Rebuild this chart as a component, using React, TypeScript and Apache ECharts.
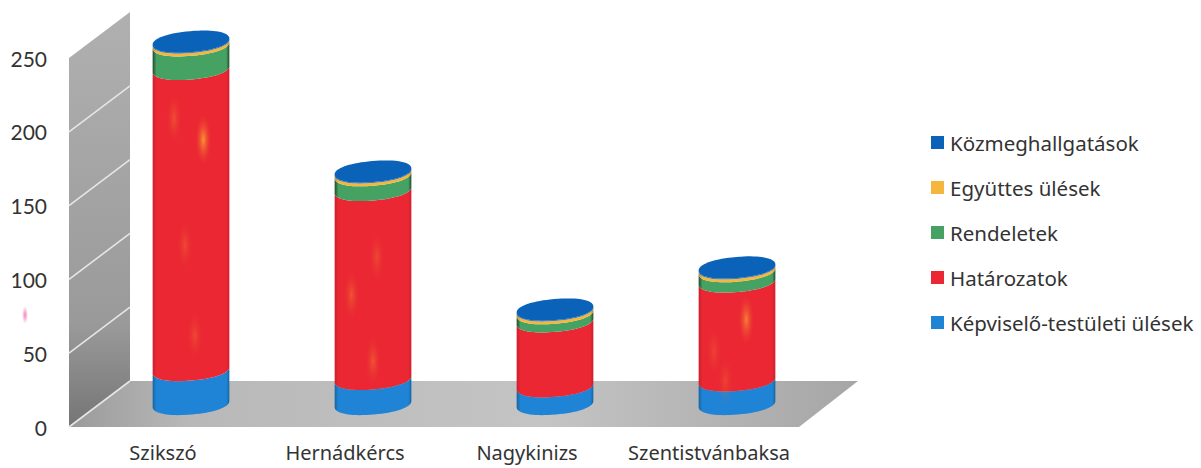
import React, { useEffect, useRef } from "react";
import * as echarts from "echarts";

const categories = ["Szikszó", "Hernádkércs", "Nagykinizs", "Szentistvánbaksa"];
const kepviseloUlesek = [23, 17, 12, 16];
const hatarozatok = [204, 128, 44, 67];
const rendeletek = [16, 10, 5.5, 7];
const egyuttesUlesek = [2, 2, 2, 2];
const kozmeghallgatasok = [0.5, 0.5, 0.5, 0.5];
const yTicks = [0, 50, 100, 150, 200, 250];

const stackOrder = [
  { name: "Képviselő-testületi ülések", values: kepviseloUlesek, color: "#1f84d6", edge: "#16659f" },
  { name: "Határozatok", values: hatarozatok, color: "#ea2733", edge: "#c9202c" },
  { name: "Rendeletek", values: rendeletek, color: "#45a262", edge: "#1f4a30" },
  { name: "Együttes ülések", values: egyuttesUlesek, color: "#f4b63c", edge: "#b9882a" },
  { name: "Közmeghallgatások", values: kozmeghallgatasok, color: "#0a63b8", edge: "#084c8c" },
];
const legendOrder = [...stackOrder].reverse().map((s) => s.name);

const DEPTH_X = 59;
const DEPTH_Y = 46;
const CYL_X = 28;
const RX = 38.5;
const RY = 10.5;
const ROUND = 0.92;
const TILT = (-5 * Math.PI) / 180;
// faint light streaks on the red segments: [category, x fraction of width, y fraction of height, strength]
const STREAKS = [
  [0, 0.66, 0.2, 1],
  [0, 0.28, 0.13, 0.35],
  [0, 0.42, 0.55, 0.3],
  [0, 0.55, 0.85, 0.3],
  [1, 0.55, 0.3, 0.3],
  [1, 0.22, 0.5, 0.4],
  [1, 0.5, 0.85, 0.4],
  [3, 0.62, 0.28, 0.8],
  [3, 0.2, 0.6, 0.25],
  [3, 0.35, 0.9, 0.25],
];

function ellipsePoint(cx: number, cy: number, t: number) {
  const c = Math.cos(t);
  const n = Math.sin(t);
  const ex = RX * Math.sign(c) * Math.pow(Math.abs(c), ROUND);
  const ey = RY * Math.sign(n) * Math.pow(Math.abs(n), ROUND);
  return [cx + ex * Math.cos(TILT) - ey * Math.sin(TILT), cy + ex * Math.sin(TILT) + ey * Math.cos(TILT)];
}

function arc(cx: number, cy: number, from: number, to: number, steps = 36) {
  const pts: number[][] = [];
  for (let i = 0; i <= steps; i++) pts.push(ellipsePoint(cx, cy, from + ((to - from) * i) / steps));
  return pts;
}

function sideFill(color: string, edge: string) {
  return new echarts.graphic.LinearGradient(0, 0, 1, 0, [
    { offset: 0, color: edge },
    { offset: 0.05, color },
    { offset: 0.5, color },
    { offset: 0.96, color },
    { offset: 1, color: edge },
  ]);
}

function makeRenderItem(level: number) {
  return (params: any, api: any) => {
    const idx = api.value(0);
    const value = api.value(1);
    let start = 0;
    for (let i = 0; i < level; i++) start += stackOrder[i].values[idx];
    const p0 = api.coord([idx, start]);
    const p1 = api.coord([idx, start + value]);
    const cx = p0[0] + CYL_X;
    const yBase = p0[1] - DEPTH_Y / 2;
    const yTop = p1[1] - DEPTH_Y / 2;
    const s = stackOrder[level];
    const points = [...arc(cx, yBase, Math.PI, 0), ...arc(cx, yTop, 0, Math.PI)];
    const children: any[] = [
      { type: "polygon", shape: { points }, style: { fill: sideFill(s.color, s.edge) } },
    ];
    if (level === 1) {
      STREAKS.filter((k) => k[0] === idx).forEach((k) => {
        children.push({
          type: "ellipse",
          shape: {
            cx: cx - RX + 2 * RX * k[1],
            cy: yTop + (yBase - yTop) * k[2] + RY,
            rx: 8,
            ry: 26,
          },
          style: {
            fill: new echarts.graphic.RadialGradient(0.5, 0.5, 0.5, [
              { offset: 0, color: `rgba(250,170,50,${0.85 * k[3]})` },
              { offset: 1, color: "rgba(240,60,50,0)" },
            ]),
          },
        });
      });
    }
    if (level === stackOrder.length - 1) {
      children.push({
        type: "polygon",
        shape: { points: arc(cx, yTop, 0, Math.PI * 2, 72) },
        style: { fill: s.color },
      });
    }
    return { type: "group", children };
  };
}

function renderBackdrop(params: any, api: any) {
  const left = params.coordSys.x;
  const right = left + params.coordSys.width;
  const y0 = api.coord([0, 0])[1];
  const yMax = api.coord([0, yTicks[yTicks.length - 1]])[1];
  const children: any[] = [
    {
      type: "polygon",
      shape: {
        points: [
          [left - 3, y0],
          [left - 3, yMax],
          [left + DEPTH_X - 1, yMax - DEPTH_Y],
          [left + DEPTH_X - 1, y0 - DEPTH_Y],
        ],
      },
      style: {
        fill: new echarts.graphic.LinearGradient(0, 0, 0, 1, [
          { offset: 0, color: "#b0b0b0" },
          { offset: 0.75, color: "#9a9a9a" },
          { offset: 1, color: "#757575" },
        ]),
      },
    },
    {
      type: "polygon",
      shape: {
        points: [
          [left - 3, y0],
          [left + DEPTH_X - 1, y0 - DEPTH_Y],
          [right + DEPTH_X - 1, y0 - DEPTH_Y],
          [right - 1, y0],
        ],
      },
      style: {
        fill: new echarts.graphic.LinearGradient(0, 0, 1, 0, [
          { offset: 0, color: "#9a9a9a" },
          { offset: 0.15, color: "#b8b8b8" },
          { offset: 0.6, color: "#c4c4c4" },
          { offset: 1, color: "#a6a6a6" },
        ]),
      },
    },
  ];
  yTicks.slice(0, -1).forEach((v) => {
    const y = api.coord([0, v])[1];
    children.push({
      type: "line",
      shape: { x1: left - 3, y1: y, x2: left + DEPTH_X - 1, y2: y - DEPTH_Y },
      style: { stroke: "#e6e6e6", lineWidth: 1.6 },
    });
  });
  return { type: "group", children };
}

export default function App() {
  const ref = useRef<HTMLDivElement>(null);
  useEffect(() => {
    document.body.style.margin = "0";
    const chart = echarts.init(ref.current!, null, { renderer: "svg" });
    chart.setOption({
      animation: false,
      backgroundColor: "#ffffff",
      textStyle: { fontFamily: "Noto Sans" },
      grid: { left: 72, top: 58, width: 728, height: 369 },
      xAxis: {
        type: "category",
        data: categories,
        axisLine: { show: false },
        axisTick: { show: false },
        axisLabel: { color: "#333333", fontSize: 20, lineHeight: 20, fontFamily: "Noto Sans", margin: 15, interval: 0 },
      },
      yAxis: {
        type: "value",
        min: 0,
        max: 250,
        interval: 50,
        axisLine: { show: false },
        axisTick: { show: false },
        splitLine: { show: false },
        axisLabel: { color: "#333333", fontSize: 21, fontFamily: "Lato", margin: 25 },
      },
      legend: {
        orient: "vertical",
        left: 926,
        top: 126,
        icon: "rect",
        itemWidth: 13,
        itemHeight: 13,
        itemGap: 22,
        data: legendOrder,
        textStyle: { color: "#333333", fontSize: 20.5, fontFamily: "Noto Sans", padding: [0, 0, 0, 1], lineHeight: 23 },
        selectedMode: false,
      },
      graphic: [
        {
          type: "ellipse",
          shape: { cx: 25, cy: 315, rx: 3, ry: 9 },
          style: {
            fill: new echarts.graphic.RadialGradient(0.5, 0.5, 0.5, [
              { offset: 0, color: "rgba(240,90,170,0.75)" },
              { offset: 1, color: "rgba(240,90,170,0)" },
            ]),
          },
        },
      ],
      series: [
        {
          type: "custom",
          name: "backdrop",
          silent: true,
          clip: false,
          z: 1,
          data: [[0, 0]],
          renderItem: renderBackdrop,
        },
        ...stackOrder.map((s, level) => ({
          type: "custom",
          name: s.name,
          clip: false,
          z: 2 + level,
          itemStyle: { color: s.color },
          data: s.values.map((v, i) => [i, v]),
          encode: { x: 0, y: 1 },
          renderItem: makeRenderItem(level),
        })),
      ],
    });
    return () => chart.dispose();
  }, []);
  return <div ref={ref} style={{ position: "absolute", left: 0, top: 0, width: 1201, height: 468 }} />;
}
